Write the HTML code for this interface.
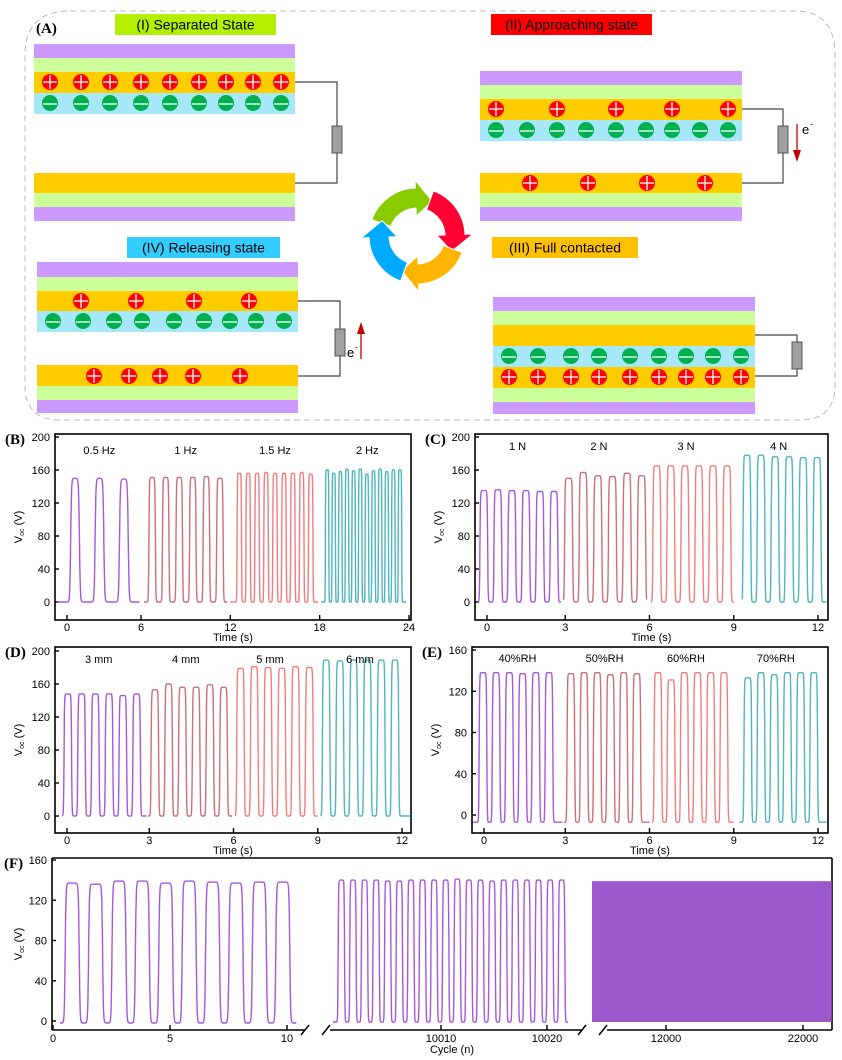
<!DOCTYPE html>
<html><head><meta charset="utf-8"><style>
html,body{margin:0;padding:0;background:#fff}
svg{display:block}
text{font-family:"Liberation Sans",sans-serif}
.pl{font-family:"Liberation Serif",serif;font-weight:bold;font-size:15px}
</style></head><body>
<svg id="fig" width="842" height="1060" viewBox="0 0 842 1060" xmlns="http://www.w3.org/2000/svg">
<g id="schem">
<path d="M70 11 H795 Q835 11 835 55 V385 Q835 420 800 420 H60 Q25 420 25 385 V55 Q25 11 70 11 Z" fill="none" stroke="#bbb" stroke-dasharray="6,4" stroke-width="1"/>
<text class="pl" x="36" y="33">(A)</text>
</g>
<g id="charts"></g>
</svg>
<script>
// ===== Chart data =====
const colors = ["#a459dd","#cd6f78","#f47c7c","#4fb6bb"];
// Panel B (frequency)
const bLabels = ["0.5 Hz","1 Hz","1.5 Hz","2 Hz"];
const bFirst = [1.57, 6.75, 12.6, 18.5];
const bPeriod = [1.64, 0.91, 0.6, 0.445];
const bRange = [[0.4,5.9],[6.2,11.8],[12.0,17.9],[18.1,23.8]];
const bPeaks = [[150,150,149],[151,151,151,151,152,150],[156,156,156,157,156,156,156,157,155],[160,156,158,161,159,161,155,159,161,158,160,160]];
// Panel C (force)
const cLabels = ["1 N","2 N","3 N","4 N"];
const cFirst = [0.1, 3.12, 6.26, 9.47];
const cPeriod = [0.5, 0.52, 0.5, 0.5];
const cRange = [[-0.1,2.85],[2.95,5.9],[6.05,9.0],[9.3,12.3]];
const cPeaks = [[135,136,135,135,134,134],[150,157,153,152,156,153],[165,165,165,165,165,165],[178,178,176,176,175,175]];
// Panel D (distance)
const dLabels = ["3 mm","4 mm","5 mm","6 mm"];
const dFirst = [0.1, 3.2, 6.25, 9.3];
const dPeriod = [0.49, 0.49, 0.49, 0.49];
const dRange = [[-0.1,2.9],[2.95,5.95],[6.05,9.0],[9.1,12.3]];
const dPeaks = [[148,148,148,148,146,148],[153,160,156,156,159,156],[179,181,180,179,181,180],[189,188,189,189,189,189]];
// Panel E (humidity)
const eLabels = ["40%RH","50%RH","60%RH","70%RH"];
const eFirst = [0.07, 3.2, 6.3, 9.5];
const ePeriod = [0.47, 0.47, 0.47, 0.47];
const eRange = [[-0.3,2.9],[2.95,6.0],[6.1,9.0],[9.2,12.3]];
const ePeaks = [[138,138,138,137,138,138],[137,138,138,136,138,137],[138,131,138,138,138,138],[133,138,136,138,138,138]];
const eBase = -7;
// Panel F (durability)
const f1Peaks = [137,136,139,139,137,139,138,137,138,138];
const f2Peaks = [140,140,140,140,139,139,140,140,140,140,141,140,140,139,140,140,140,140,140,140,140];
const f3Min = -1, f3Max = 139, f3Range = [6600, 24100];
const yTicksA = [0,40,80,120,160,200];
const yTicksE = [0,40,80,120,160];
const xTicksB = [0,6,12,18,24];
const xTicksC = [0,3,6,9,12];

const NS="http://www.w3.org/2000/svg";
const root=document.getElementById('charts');
const schem=document.getElementById('schem');
function mk(tag,attrs,parent){const e=document.createElementNS(NS,tag);for(const k in attrs)e.setAttribute(k,attrs[k]);(parent||root).appendChild(e);return e;}
function txt(s,attrs,parent){const e=mk('text',attrs,parent);e.textContent=s;return e;}

function pulse(t,c,w,k,peak,base){
  const s1=1/(1+Math.exp(-(t-(c-w/2))/k)), s2=1/(1+Math.exp(-((c+w/2)-t)/k));
  return base+(peak-base)*s1*s2;
}
function trace(sx,sy,range,first,period,peaks,base,duty,color,g,name){
  let pts=[];const N=900;
  const w=period*duty,k=period*0.018;
  const t0=Math.min(range[0],first-w/2-4*k);
  for(let i=0;i<=N;i++){
    const t=t0+(range[1]-t0)*i/N;
    let v=base;
    for(let j=0;j<peaks.length;j++){const c=first+j*period;if(Math.abs(t-c)<period*1.5)v=Math.max(v,pulse(t,c,w,k,peaks[j],base));}
    pts.push(sx(t).toFixed(1)+','+sy(v).toFixed(1));
  }
  const p=mk('polyline',{points:pts.join(' '),fill:'none',stroke:color,'stroke-width':1.4,'stroke-linejoin':'round'},g);
  
  
}
function chart(o){
  const g=mk('g',{});
  
  
  const sx=t=>o.x0+(t-o.xd[0])/(o.xd[1]-o.xd[0])*(o.x1-o.x0);
  const sy=v=>o.y0+(v-o.yd[0])/(o.yd[1]-o.yd[0])*(o.y1-o.y0);
  const fr=mk('rect',{x:o.bx0,y:o.by0,width:o.bx1-o.bx0,height:o.by1-o.by0,fill:'none',stroke:'#000','stroke-width':1.6},g);
  
  
  o.yt.forEach(v=>{
    mk('line',{x1:o.bx0,x2:o.bx0+4,y1:sy(v),y2:sy(v),stroke:'#000','stroke-width':1.4},g);
    const t=txt(String(v),{x:o.bx0-5,y:sy(v)+4,'font-size':11,'text-anchor':'end'},g);
    
    
  });
  o.xt.forEach(v=>{
    let x=Math.max(sx(v),o.bx0+12);
    mk('line',{x1:x,x2:x,y1:o.by1,y2:o.by1-5,stroke:'#000','stroke-width':1.4},g);
    const t=txt(String(v),{x:x,y:o.by1+11,'font-size':11,'text-anchor':'middle'},g);
    
    
  });
  const xt=txt('Time (s)',{x:(o.bx0+o.bx1)/2,y:o.by1+21,'font-size':11,'text-anchor':'middle'},g);
  
  
  const cy=(o.by0+o.by1)/2;
  const yt=mk('text',{x:0,y:0,'font-size':11,'text-anchor':'middle',transform:`translate(${o.bx0-33},${cy}) rotate(-90)`},g);
  yt.innerHTML='V<tspan font-size="7" dy="2">oc</tspan><tspan dy="-2"> (V)</tspan>';
  
  
  const pl=txt(o.panel,{x:o.bx0-50,y:o.by0+10,class:'pl'},g);
  
  
  for(let s=0;s<4;s++){
    trace(sx,sy,o.range[s],o.first[s],o.period[s],o.peaks[s],o.base,o.duty[s],colors[s],g,'series-'+o.labels[s].replace(/[^a-z0-9]+/gi,'-'));
    const lb=txt(o.labels[s],{x:sx(o.labx[s]),y:o.laby,'font-size':11,'text-anchor':'middle'},g);
    
    
  }
}
chart({name:'chart-b-frequency',panel:'(B)',bx0:55,bx1:411,by0:434,by1:620,x0:141,x1:409,xd:[6,24],y0:602,y1:437,yd:[0,200],yt:yTicksA,xt:xTicksB,
  range:bRange,first:bFirst,period:bPeriod,peaks:bPeaks,base:0,duty:[0.36,0.48,0.5,0.52],labels:bLabels,labx:[3.2,9.0,15.0,21.2],laby:454});
chart({name:'chart-c-force',panel:'(C)',bx0:475,bx1:828,by0:434,by1:620,x0:481,x1:818,xd:[0,12],y0:602,y1:437,yd:[0,200],yt:yTicksA,xt:xTicksC,
  range:cRange,first:cFirst,period:cPeriod,peaks:cPeaks,base:0,duty:[0.55,0.55,0.55,0.55],labels:cLabels,labx:[1.3,4.2,7.3,10.6],laby:450});
chart({name:'chart-d-distance',panel:'(D)',bx0:55,bx1:411,by0:647,by1:833,x0:65,x1:402,xd:[0,12],y0:816,y1:651,yd:[0,200],yt:yTicksA,xt:xTicksC,
  range:dRange,first:dFirst,period:dPeriod,peaks:dPeaks,base:0,duty:[0.55,0.55,0.55,0.55],labels:dLabels,labx:[1.2,4.3,7.3,10.5],laby:663});
chart({name:'chart-e-humidity',panel:'(E)',bx0:472,bx1:828,by0:647,by1:833,x0:481,x1:818,xd:[0,12],y0:815,y1:650,yd:[0,160],yt:yTicksE,xt:xTicksC,
  range:eRange,first:eFirst,period:ePeriod,peaks:ePeaks,base:eBase,duty:[0.58,0.58,0.58,0.58],labels:eLabels,labx:[1.3,4.4,7.3,10.5],laby:662});

// Panel F
(function(){
  const g=mk('g',{});
  
  
  const bx0=52,bx1=832,by0=858,by1=1030;
  const sy=v=>1021+(v-0)*(860-1021)/160;
  const s1=c=>53+c*23.4, s2=c=>441+(c-10010)*10.6, s3=c=>666+(c-12000)*0.0137;
  mk('line',{x1:bx0,y1:by0,x2:bx1,y2:by0,stroke:'#000','stroke-width':1.6},g);
  mk('line',{x1:bx0,y1:by0,x2:bx0,y2:by1,stroke:'#000','stroke-width':1.6},g);
  mk('line',{x1:bx1,y1:by0,x2:bx1,y2:by1,stroke:'#000','stroke-width':1.6},g);
  [[bx0,305],[330,582],[607,bx1]].forEach(a=>mk('line',{x1:a[0],y1:by1,x2:a[1],y2:by1,stroke:'#000','stroke-width':1.6},g));
  [305,326,582,603].forEach(x=>{const b=mk('line',{x1:x-4,y1:by1+5,x2:x+4,y2:by1-5,stroke:'#000','stroke-width':1.5},g);});
  [0,40,80,120,160].forEach(v=>{
    mk('line',{x1:bx0,x2:bx0+4,y1:sy(v),y2:sy(v),stroke:'#000','stroke-width':1.4},g);
    const t=txt(String(v),{x:bx0-5,y:sy(v)+4,'font-size':11,'text-anchor':'end'},g);
    
    
  });
  [[0,s1(0)],[5,s1(5)],[10,s1(10)],[10010,s2(10010)],[10020,s2(10020)],[12000,s3(12000)],[22000,s3(22000)]].forEach(a=>{
    mk('line',{x1:a[1],x2:a[1],y1:by1,y2:by1-5,stroke:'#000','stroke-width':1.4},g);
    const t=txt(String(a[0]),{x:a[1],y:by1+12,'font-size':11,'text-anchor':'middle'},g);
    
    
  });
  const xt=txt('Cycle (n)',{x:452,y:1053,'font-size':11,'text-anchor':'middle'},g);
  
  
  const yt=mk('text',{'font-size':11,'text-anchor':'middle',transform:`translate(${bx0-30},${(by0+by1)/2}) rotate(-90)`},g);
  yt.innerHTML='V<tspan font-size="7" dy="2">oc</tspan><tspan dy="-2"> (V)</tspan>';
  
  
  const pl=txt('(F)',{x:4,y:868,class:'pl'},g);
  
  
  trace(s1,sy,[0.3,10.4],0.82,1.0,f1Peaks,-2,0.6,colors[0],g,'series-initial-cycles');
  trace(s2,sy,[9999.8,10022],10000.6,1.094,f2Peaks,-1,0.55,colors[0],g,'series-mid-cycles');
  const r=mk('rect',{x:s3(f3Range[0]),y:sy(f3Max),width:s3(f3Range[1])-s3(f3Range[0]),height:sy(f3Min)-sy(f3Max),fill:'#9b59cc'},g);
  
  
})();

// ===== Schematic =====
const PUR="#cc99ff",LGR="#ccff99",ORG="#ffcc00",CY="#a6e8f7";
function layer(x,y,w,h,c,n){const r=mk('rect',{x:x,y:y,width:w,height:h,fill:c},schem);}
function plus(x,y){const g=mk('g',{},schem);
  mk('circle',{cx:x,cy:y,r:8,fill:'#ff0000'},g);mk('line',{x1:x-7,x2:x+7,y1:y,y2:y,stroke:'#fff','stroke-width':1.3},g);mk('line',{x1:x,x2:x,y1:y-7,y2:y+7,stroke:'#fff','stroke-width':1.3},g);}
function minus(x,y){const g=mk('g',{},schem);
  mk('circle',{cx:x,cy:y,r:8,fill:'#00b050'},g);mk('line',{x1:x-7,x2:x+7,y1:y+1,y2:y+1,stroke:'#fff','stroke-width':1.3},g);}
function wire(d){const p=mk('path',{d:d,fill:'none',stroke:'#444','stroke-width':1.2},schem);}
function resistor(x,y){const r=mk('rect',{x:x,y:y,width:10,height:27,fill:'#a0a0a0',stroke:'#555','stroke-width':1},schem);}
function label(x,y,w,h,c,s){const r=mk('rect',{x:x,y:y,width:w,height:h,fill:c},schem);
  const t=txt(s,{x:x+w/2,y:y+h/2+5,'font-size':14,'text-anchor':'middle'},schem);}
const nineI=[50,81,110,141,170,199,226,253,281];
// I
label(115,14,161,21,"#b3f000","(I)  Separated State");
layer(34,44,261,14,PUR,'electrode-top');layer(34,58,261,14,LGR,'substrate-top');layer(34,72,261,21,ORG,'tribo-layer-top');layer(34,93,261,21,CY,'tribo-layer-cyan');
nineI.forEach(x=>{plus(x,82);minus(x,103);});
layer(34,173,261,20,ORG,'tribo-layer-bottom');layer(34,193,261,14,LGR,'substrate-bottom');layer(34,207,261,14,PUR,'electrode-bottom');
wire("M295 82 H337 V183 H295");resistor(332,126);
// II
label(491,14,161,21,"#ff0000","(II)  Approaching state");
layer(480,71,262,14,PUR,'electrode-top');layer(480,85,262,14,LGR,'substrate-top');layer(480,99,262,21,ORG,'tribo-layer-top');layer(480,120,262,21,CY,'tribo-layer-cyan');
[496,557,616,672,728].forEach(x=>plus(x,109));[496,527,557,586,616,646,672,700,728].forEach(x=>minus(x,130));
layer(480,173,262,20,ORG,'tribo-layer-bottom');layer(480,193,262,14,LGR,'substrate-bottom');layer(480,207,262,14,PUR,'electrode-bottom');
[530,588,647,705].forEach(x=>plus(x,183));
wire("M742 109 H783 V183 H742");resistor(778,126);
mk('line',{x1:797,y1:124,x2:797,y2:155,stroke:'#c00000','stroke-width':1.3},schem);mk('polygon',{points:'793,150 801,150 797,162',fill:'#c00000'},schem);
txt('e',{x:802,y:134,'font-size':13},schem);txt('-',{x:810,y:127,'font-size':9},schem);
// IV
label(127,237,153,21,"#33ccff","(IV)  Releasing state");
layer(37,262,261,15,PUR,'electrode-top');layer(37,277,261,14,LGR,'substrate-top');layer(37,291,261,20,ORG,'tribo-layer-top');layer(37,311,261,21,CY,'tribo-layer-cyan');
[81,136,194,249].forEach(x=>plus(x,301));[53,83,114,142,174,204,230,256,284].forEach(x=>minus(x,321));
layer(37,365,261,21,ORG,'tribo-layer-bottom');layer(37,386,261,14,LGR,'substrate-bottom');layer(37,400,261,13,PUR,'electrode-bottom');
[94,129,160,193,240].forEach(x=>plus(x,376));
wire("M298 301 H340 V376 H298");resistor(335,329);
mk('line',{x1:361,y1:359,x2:361,y2:330,stroke:'#c00000','stroke-width':1.3},schem);mk('polygon',{points:'357,334 365,334 361,322',fill:'#c00000'},schem);
txt('e',{x:347,y:357,'font-size':13},schem);txt('-',{x:355,y:350,'font-size':9},schem);
// III
label(492,237,146,21,"#ffc000","(III)  Full contacted");
layer(493,297,262,14,PUR,'electrode-top');layer(493,311,262,14,LGR,'substrate-top');layer(493,325,262,21,ORG,'tribo-layer-top');layer(493,346,262,21,CY,'tribo-layer-cyan');
layer(493,367,262,21,ORG,'tribo-layer-bottom');layer(493,388,262,14,LGR,'substrate-bottom');layer(493,402,262,12,PUR,'electrode-bottom');
[509,538,571,599,630,659,686,713,741].forEach(x=>{minus(x,356);plus(x,377);});
wire("M755 335 H797 V376 H755");resistor(792,342);
// Cycle arrows
(function(){
  const cx=417,cy=236,R=38,W=20;
  const segs=[[200,268,"#88cc00"],[290,358,"#ff0033"],[20,88,"#ffb400"],[110,178,"#00aaff"]];
  segs.forEach(s=>{
    const a0=s[0]*Math.PI/180,a1=s[1]*Math.PI/180;
    const P=(a,r)=>[cx+r*Math.cos(a),cy+r*Math.sin(a)];
    const o0=P(a0,R+W/2),o1=P(a1,R+W/2),i1=P(a1,R-W/2),i0=P(a0,R-W/2);
    const h1=P(a1,R+W/2+8),h2=P(a1,R-W/2-8),tip=P(a1+0.45,R);
    const d=`M${o0} A${R+W/2},${R+W/2} 0 0 1 ${o1} L${h1} L${tip} L${h2} L${i1} A${R-W/2},${R-W/2} 0 0 0 ${i0} Z`;
    const p=mk('path',{d:d,fill:s[2],stroke:'#fff','stroke-width':1},schem);
    
    
  });
})();
</script>
</body></html>
